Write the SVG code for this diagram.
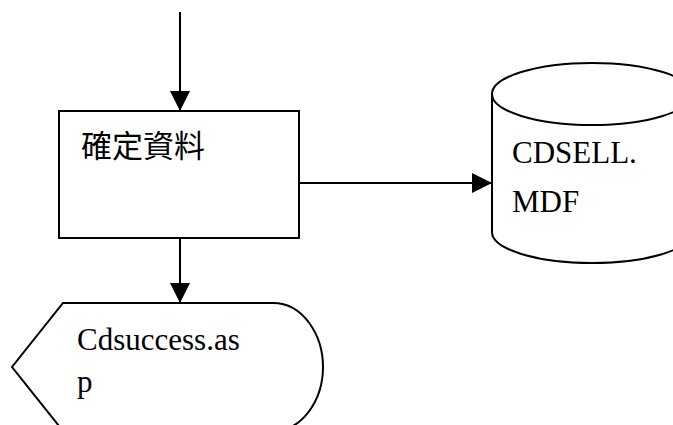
<svg xmlns="http://www.w3.org/2000/svg" width="673" height="425" viewBox="0 0 673 425">
<defs>
<marker id="arr" markerWidth="20" markerHeight="20" refX="20" refY="10" orient="auto" markerUnits="userSpaceOnUse">
<path d="M0,0 L20,10 L0,20 Z" fill="#000"/>
</marker>
<style>
.s{fill:#fff;stroke:#000;stroke-width:2}
.c{fill:none;stroke:#000;stroke-width:2}
.t{font-family:'Liberation Serif','Tinos','DejaVu Serif','Times New Roman',serif;font-size:31px;fill:#000}
</style>
</defs>
<rect width="673" height="425" fill="#fff"/>
<g id="connectors">
<line class="c" x1="180" y1="12" x2="180" y2="111" marker-end="url(#arr)"/>
<line class="c" x1="180" y1="238" x2="180" y2="303" marker-end="url(#arr)"/>
<line class="c" x1="299" y1="183" x2="492" y2="183" marker-end="url(#arr)"/>
</g>
<g id="confirm">
<rect class="s" x="59" y="111" width="240" height="127"/>
<text x="81" y="157" font-family="'Noto Sans CJK TC','Noto Sans CJK SC',sans-serif" font-size="31" fill="#000">確定資料</text>
</g>
<g id="db">
<path class="s" d="M492,94 L492,232 A100,31 0 0 0 692,232 L692,94 A100,31 0 0 0 492,94 Z"/>
<path class="c" d="M492,94 A100,31 0 0 0 692,94"/>
<text class="t" x="512" y="163">CDSELL.</text>
<text class="t" x="512" y="212">MDF</text>
</g>
<g id="display">
<path class="s" d="M63,303 L273,303 C303,303 323,335 323,367 C323,399 303,431 273,431 L63,431 L12,367 Z"/>
<text class="t" x="77" y="350">Cdsuccess.as</text>
<text class="t" x="77" y="392">p</text>
</g>
</svg>
